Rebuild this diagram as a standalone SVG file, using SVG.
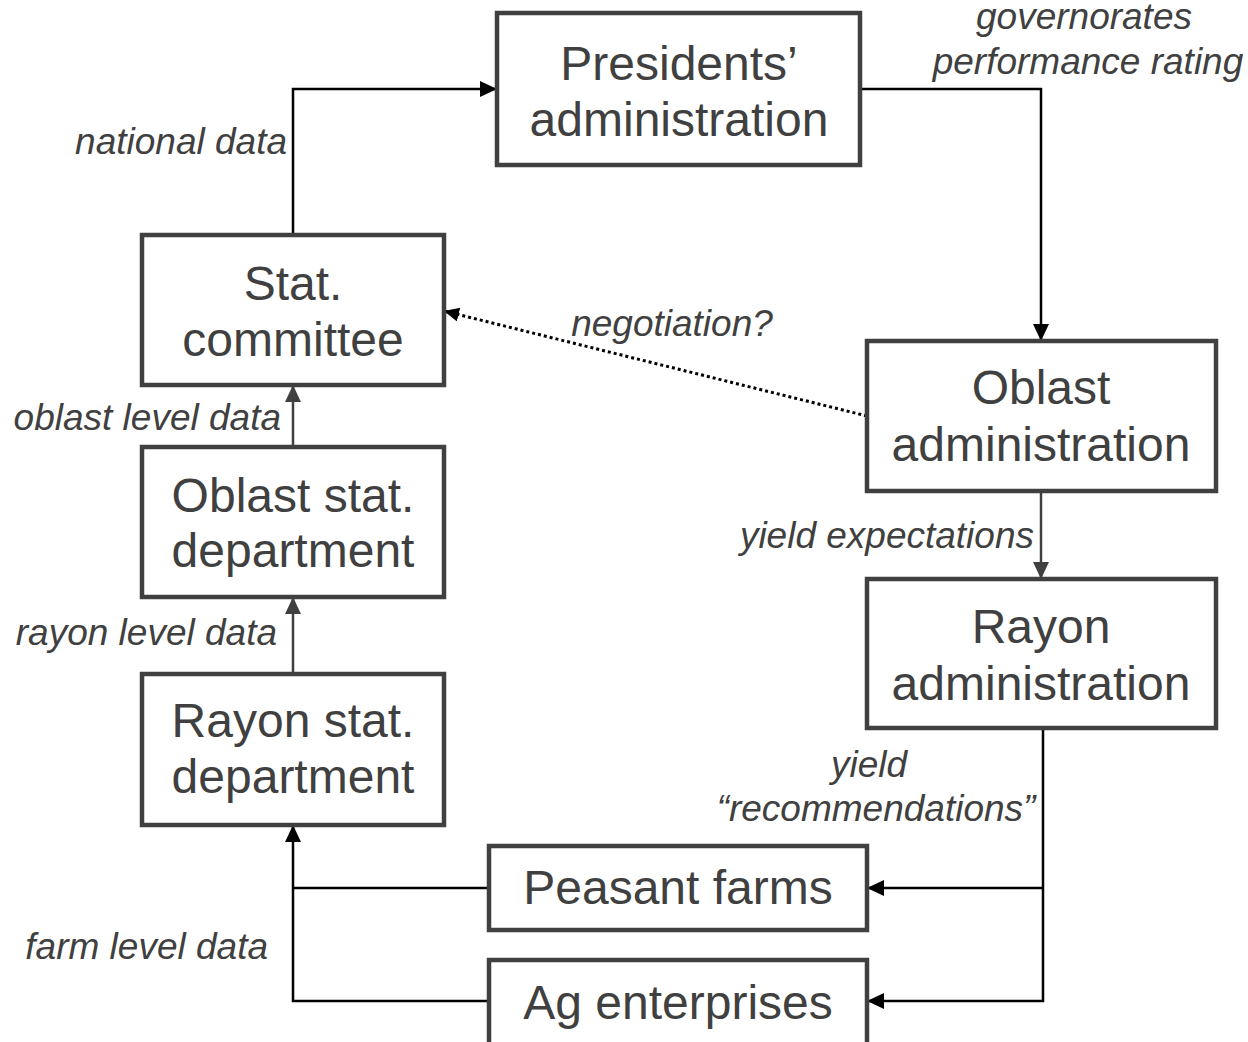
<svg xmlns="http://www.w3.org/2000/svg" width="1248" height="1042" viewBox="0 0 1248 1042">
<defs>
<marker id="ah" markerWidth="20" markerHeight="20" refX="17" refY="8" orient="auto" markerUnits="userSpaceOnUse"><path d="M0,0 L17,8 L0,16 Z" fill="#000"/></marker>
<marker id="ahg" markerWidth="20" markerHeight="20" refX="17" refY="8" orient="auto" markerUnits="userSpaceOnUse"><path d="M0,0 L17,8 L0,16 Z" fill="#404040"/></marker>
<marker id="ahs" markerWidth="18" markerHeight="18" refX="15" refY="7" orient="auto" markerUnits="userSpaceOnUse"><path d="M0,0 L15,7 L0,14 Z" fill="#000"/></marker>
</defs>
<style>
.box{fill:#fff;stroke:#404040;stroke-width:4.5;}
.bt{font-family:"Liberation Sans",Arial,sans-serif;font-size:48px;fill:#404040;text-anchor:middle;}
.lb{font-family:"Liberation Sans",Arial,sans-serif;font-size:37px;font-style:italic;fill:#404040;}
.c{fill:none;stroke:#000;stroke-width:2.5;}
.cg{fill:none;stroke:#404040;stroke-width:2.5;}
</style>
<rect width="1248" height="1042" fill="#fff"/>
<g id="connectors">
<path class="c" d="M293,235 V89 H497" marker-end="url(#ah)"/>
<path class="c" d="M860,89 H1041 V341" marker-end="url(#ah)"/>
<path d="M867,416 L444,311" fill="none" stroke="#000" stroke-width="3" stroke-dasharray="3,3" marker-end="url(#ahs)"/>
<path class="cg" d="M1041,491 V579" marker-end="url(#ahg)"/>
<path class="cg" d="M293,447 V385" marker-end="url(#ahg)"/>
<path class="cg" d="M293,674 V597" marker-end="url(#ahg)"/>
<path class="c" d="M1043,728 V1001 H867" marker-end="url(#ah)"/>
<path class="c" d="M1043,888 H867" marker-end="url(#ah)"/>
<path class="c" d="M489,888 H293"/>
<path class="c" d="M489,1001 H293 V825" marker-end="url(#ah)"/>
</g>
<g id="presidents"><rect class="box" x="497" y="13" width="363" height="152"/><text class="bt" x="679" y="80">Presidents’</text><text class="bt" x="679" y="136">administration</text></g>
<g id="statcommittee"><rect class="box" x="142" y="235" width="302" height="150"/><text class="bt" x="293" y="300">Stat.</text><text class="bt" x="293" y="356">committee</text></g>
<g id="oblaststat"><rect class="box" x="142" y="447" width="302" height="150"/><text class="bt" x="293" y="512">Oblast stat.</text><text class="bt" x="293" y="567">department</text></g>
<g id="rayonstat"><rect class="box" x="142" y="674" width="302" height="151"/><text class="bt" x="293" y="737">Rayon stat.</text><text class="bt" x="293" y="793">department</text></g>
<g id="oblastadmin"><rect class="box" x="867" y="341" width="349" height="150"/><text class="bt" x="1041" y="404">Oblast</text><text class="bt" x="1041" y="461">administration</text></g>
<g id="rayonadmin"><rect class="box" x="867" y="579" width="349" height="149"/><text class="bt" x="1041" y="643">Rayon</text><text class="bt" x="1041" y="700">administration</text></g>
<g id="peasant"><rect class="box" x="489" y="846" width="378" height="84"/><text class="bt" x="678" y="904">Peasant farms</text></g>
<g id="ag"><rect class="box" x="489" y="960" width="378" height="90"/><text class="bt" x="678" y="1019">Ag enterprises</text></g>
<g id="labels">
<text class="lb" x="1084" y="29" text-anchor="middle">governorates</text>
<text class="lb" x="1088" y="74" text-anchor="middle">performance rating</text>
<text class="lb" x="287" y="154" text-anchor="end">national data</text>
<text class="lb" x="672" y="336" text-anchor="middle">negotiation?</text>
<text class="lb" x="281" y="430" text-anchor="end">oblast level data</text>
<text class="lb" x="277" y="645" text-anchor="end">rayon level data</text>
<text class="lb" x="268" y="959" text-anchor="end">farm level data</text>
<text class="lb" x="1034" y="548" text-anchor="end">yield expectations</text>
<text class="lb" x="869" y="777" text-anchor="middle">yield</text>
<text class="lb" x="876" y="821" text-anchor="middle">“recommendations”</text>
</g>
</svg>
